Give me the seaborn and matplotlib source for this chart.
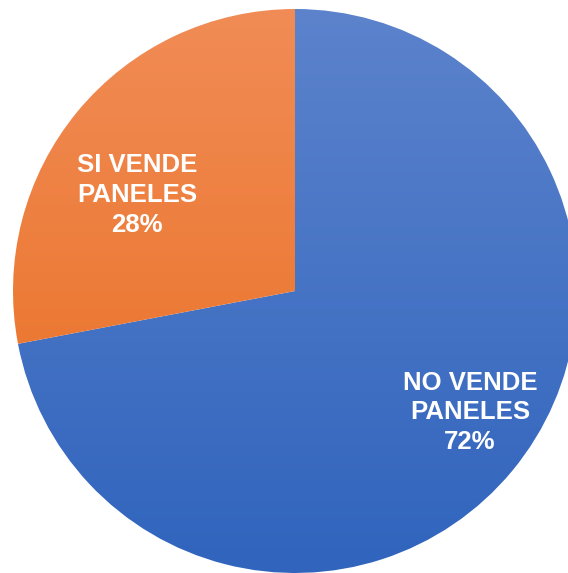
import numpy as np
import seaborn as sns
from matplotlib import pyplot as plt
from matplotlib.colors import LinearSegmentedColormap

sns.set_theme(style='white')
plt.rcParams['font.family'] = ['Liberation Sans', 'DejaVu Sans']

categorias = ['NO VENDE\nPANELES', 'SI VENDE\nPANELES']
valores = [72, 28]
# colores del degradado (arriba, abajo) de cada porción
degradados = [('#5C83CC', '#3064BD'), ('#F18C56', '#E86C1C')]

fig = plt.figure(figsize=(5.68, 5.73), dpi=100)
ax = fig.add_axes([13 / 568, 0, 564 / 568, 564 / 573])

wedges, _ = ax.pie(valores, startangle=90, counterclock=False,
                   radius=1, wedgeprops=dict(linewidth=0))

# relleno con degradado vertical recortado a cada porción
grad = np.linspace(0, 1, 256).reshape(-1, 1)
for w, (c_top, c_bot) in zip(wedges, degradados):
    w.set_facecolor('none')
    cmap = LinearSegmentedColormap.from_list('g', [c_top, c_bot])
    im = ax.imshow(grad, cmap=cmap, extent=(-1, 1, -1, 1), origin='upper',
                   aspect='auto', zorder=1, interpolation='bilinear')
    im.set_clip_path(w)

# posiciones de las etiquetas (fracción del radio)
pos_etiquetas = [(0.62, -0.43), (-0.56, 0.34)]
for txt, v, (x, y) in zip(categorias, valores, pos_etiquetas):
    ax.text(x, y, '%s\n%d%%' % (txt, v), ha='center', va='center',
            color='white', fontsize=18.5, fontweight='bold',
            linespacing=1.3, zorder=3)

ax.set_xlim(-1, 1)
ax.set_ylim(-1, 1)
ax.set_aspect('auto')
ax.axis('off')
fig.savefig('out.png', dpi=100)
